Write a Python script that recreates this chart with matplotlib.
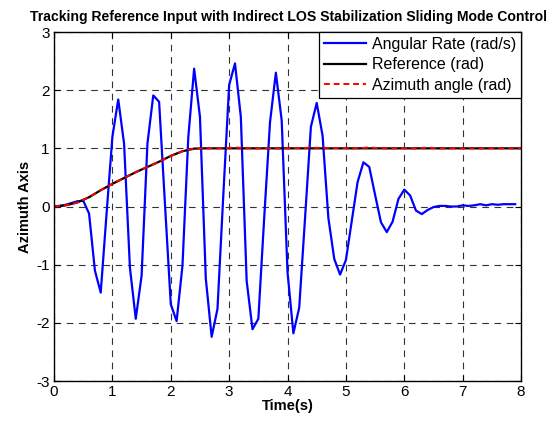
import numpy as np
import matplotlib.pyplot as plt

plt.rcParams['font.family'] = ['Liberation Sans', 'DejaVu Sans']
plt.rcParams['axes.unicode_minus'] = False

#---Data---
t_rate = np.arange(0, 8.0, 0.1)
rate = [0.0, 0.01, 0.03, 0.06, 0.09, 0.1, -0.12, -1.1, -1.48, -0.12,
        1.2, 1.84, 1.08, -1.05, -1.93, -1.19, 1.08, 1.91, 1.8, 0.05,
        -1.68, -1.97, -1.02, 1.19, 2.37, 1.54, -1.24, -2.24, -1.76, 0.2,
        2.09, 2.46, 1.54, -1.28, -2.11, -1.93, -0.2, 1.45, 2.3, 1.48,
        -1.13, -2.18, -1.74, -0.2, 1.37, 1.78, 1.22, -0.2, -0.9, -1.17,
        -0.92, -0.25, 0.42, 0.76, 0.68, 0.2, -0.27, -0.44, -0.26, 0.13,
        0.29, 0.19, -0.07, -0.13, -0.06, -0.01, 0.01, 0.01, 0.0, 0.0,
        0.02, 0.01, 0.02, 0.04, 0.02, 0.04, 0.03, 0.04, 0.04, 0.04]

t_ref = [0, 0.2, 0.4, 0.6, 0.8, 1.0, 1.2, 1.4, 1.6, 1.8, 2.0, 2.2, 2.4, 2.6, 8.0]
ref = [0, 0.02, 0.07, 0.16, 0.28, 0.39, 0.49, 0.59, 0.68, 0.77, 0.87, 0.95, 0.995, 1.0, 1.0]

t_az = [0, 0.2, 0.4, 0.6, 0.8, 1.0, 1.2, 1.4, 1.6, 1.8, 2.0, 2.2, 2.4, 2.6,
        2.9, 3.1, 3.3, 4.0, 4.4, 5.2, 5.4, 5.6, 6.2, 6.4, 6.6, 8.0]
az = [0, 0.02, 0.07, 0.16, 0.28, 0.39, 0.49, 0.59, 0.68, 0.77, 0.87, 0.95, 0.995, 1.0,
      1.0, 1.015, 1.0, 1.0, 1.01, 1.0, 1.015, 1.0, 1.0, 1.012, 1.0, 1.0]

#---Plot---
fig = plt.figure(figsize=(5.53, 4.25), dpi=100)
ax = fig.add_axes([0.0977, 0.1035, 0.8445, 0.8212])
ax.plot(t_rate, rate, color='#0000ff', linewidth=1.6, label='Angular Rate (rad/s)')
ax.plot(t_ref, ref, color='black', linewidth=1.6, label='Reference (rad)')
ax.plot(t_az, az, color='red', linewidth=1.4, linestyle='--', dashes=(3, 2),
        label='Azimuth angle (rad)')

ax.set_xlim(0, 8)
ax.set_ylim(-3, 3)
ax.set_xticks(range(0, 9))
ax.set_yticks(range(-3, 4))
ax.tick_params(direction='in', length=4, labelsize=11, top=True, right=True, pad=3)
for s in ax.spines.values():
    s.set_linewidth(1.0)
ax.grid(True, color='#333333', linestyle='--', dashes=(6, 5), linewidth=0.8)
ax.set_xlabel('Time(s)', fontsize=10.5, fontweight='bold', labelpad=0)
ax.set_ylabel('Azimuth Axis', fontsize=10.5, fontweight='bold', labelpad=3)
ax.set_title('Tracking Reference Input with Indirect LOS Stabilization Sliding Mode Control',
             fontsize=10.1, fontweight='bold', pad=8, x=0.503)
leg = ax.legend(loc='upper right', fontsize=11.5, frameon=True, fancybox=False,
                borderpad=0.3, labelspacing=0.35, handlelength=2.6, handletextpad=0.4,
                borderaxespad=0.0)
leg.get_frame().set_edgecolor('black')
leg.get_frame().set_linewidth(0.9)
leg.get_frame().set_alpha(1)

fig.savefig('out.png', dpi=100)
